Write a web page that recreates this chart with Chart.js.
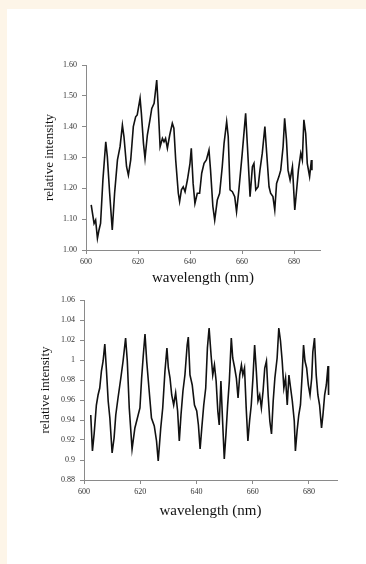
<!DOCTYPE html>
<html>
<head>
<meta charset="utf-8">
<script src="https://cdn.jsdelivr.net/npm/chart.js@4/dist/chart.umd.min.js"></script>
<style>
  html, body { margin: 0; padding: 0; overflow: hidden; background: #fff; }
  body { width: 366px; height: 564px; position: relative; }
  .cream { position: absolute; background: #fdf5e8; }
  #creamTop { left: 0; top: 0; width: 366px; height: 9px; }
  #creamLeft { left: 0; top: 0; width: 7px; height: 564px; }
  .box { position: absolute; left: 0; }
  #top { top: 40px; width: 340px; height: 260px; }
  #bottom { top: 290px; width: 357px; height: 250px; }
</style>
</head>
<body>
<div class="cream" id="creamTop"></div>
<div class="cream" id="creamLeft"></div>
<div class="box" id="top"><canvas id="chartTop"></canvas></div>
<div class="box" id="bottom"><canvas id="chartBottom"></canvas></div>
<script>
// Spectre du haut : longueurs d'onde (nm) et intensité relative
const wlTop = [602.0, 603.1, 603.7, 604.4, 605.0, 605.6, 606.5, 607.6, 608.2, 609.1, 610.1, 611.0, 612.1, 613.1, 614.0, 614.6, 615.6, 616.3, 617.2, 618.2, 619.1, 619.7, 620.8, 621.3, 622.1, 622.7, 623.6, 624.6, 625.3, 626.2, 627.2, 627.7, 628.5, 629.4, 630.0, 630.6, 631.3, 632.2, 633.2, 633.8, 634.5, 635.5, 636.0, 636.7, 637.4, 638.1, 639.0, 640.0, 640.5, 641.2, 641.9, 642.8, 643.7, 644.5, 645.4, 646.3, 647.3, 647.9, 648.8, 649.5, 650.5, 651.4, 652.4, 653.1, 654.1, 654.7, 655.4, 656.3, 657.2, 657.9, 658.8, 660.1, 661.4, 662.1, 663.1, 664.0, 664.6, 665.3, 666.2, 666.9, 667.8, 668.8, 669.5, 670.4, 671.0, 671.9, 672.6, 673.3, 674.2, 674.9, 675.8, 676.4, 677.1, 677.7, 678.5, 679.4, 680.3, 680.9, 681.7, 682.6, 683.2, 683.8, 684.5, 685.1, 686.0, 686.7, 686.9];
const intTop = [1.146, 1.086, 1.097, 1.038, 1.065, 1.086, 1.227, 1.351, 1.303, 1.184, 1.065, 1.184, 1.292, 1.335, 1.405, 1.368, 1.270, 1.243, 1.292, 1.400, 1.432, 1.438, 1.492, 1.443, 1.346, 1.297, 1.373, 1.422, 1.459, 1.476, 1.551, 1.476, 1.335, 1.362, 1.351, 1.362, 1.330, 1.373, 1.411, 1.395, 1.292, 1.184, 1.157, 1.195, 1.205, 1.189, 1.227, 1.281, 1.330, 1.216, 1.151, 1.184, 1.184, 1.249, 1.281, 1.292, 1.324, 1.259, 1.141, 1.097, 1.162, 1.184, 1.270, 1.346, 1.416, 1.368, 1.195, 1.189, 1.173, 1.124, 1.195, 1.314, 1.443, 1.335, 1.173, 1.270, 1.281, 1.195, 1.205, 1.259, 1.314, 1.400, 1.314, 1.205, 1.184, 1.173, 1.130, 1.216, 1.238, 1.259, 1.335, 1.427, 1.357, 1.259, 1.227, 1.270, 1.130, 1.184, 1.259, 1.314, 1.292, 1.422, 1.378, 1.281, 1.238, 1.292, 1.259];

// Spectre du bas
const wlBottom = [602.4, 603.0, 603.6, 604.4, 605.0, 605.6, 606.2, 606.8, 607.4, 608.0, 608.6, 609.2, 610.0, 610.7, 611.3, 612.1, 613.1, 613.9, 614.8, 615.4, 616.1, 617.1, 618.1, 619.0, 619.9, 620.5, 621.1, 621.7, 622.3, 623.1, 624.0, 625.0, 625.8, 626.4, 627.3, 628.0, 628.8, 629.5, 630.0, 630.6, 631.2, 631.9, 632.6, 633.3, 633.9, 634.5, 635.2, 635.9, 636.7, 637.1, 637.7, 638.5, 639.3, 640.1, 640.7, 641.3, 641.9, 642.6, 643.3, 643.9, 644.5, 645.2, 645.8, 646.4, 647.0, 647.6, 648.1, 648.7, 649.3, 649.9, 650.5, 651.1, 651.7, 652.4, 652.9, 653.6, 654.2, 654.8, 655.4, 656.0, 656.5, 657.1, 657.7, 658.3, 658.9, 659.5, 660.1, 660.7, 661.3, 661.9, 662.5, 663.1, 663.7, 664.3, 664.9, 665.5, 666.1, 666.7, 667.3, 667.9, 668.7, 669.3, 669.9, 670.5, 671.1, 671.7, 672.3, 672.9, 673.5, 674.1, 674.8, 675.2, 675.8, 676.4, 677.0, 677.6, 678.1, 678.6, 679.2, 679.8, 680.4, 681.0, 681.4, 682.0, 682.6, 683.2, 683.8, 684.5, 685.0, 685.6, 686.2, 686.8, 687.0];
const intBottom = [0.945, 0.909, 0.926, 0.955, 0.965, 0.972, 0.989, 0.999, 1.016, 0.989, 0.959, 0.942, 0.907, 0.922, 0.945, 0.962, 0.982, 0.999, 1.022, 0.999, 0.952, 0.911, 0.932, 0.942, 0.952, 0.982, 1.005, 1.026, 0.999, 0.972, 0.942, 0.934, 0.919, 0.899, 0.932, 0.952, 0.989, 1.012, 0.992, 0.982, 0.965, 0.955, 0.967, 0.949, 0.919, 0.945, 0.969, 0.985, 1.015, 1.023, 0.985, 0.975, 0.955, 0.949, 0.935, 0.911, 0.932, 0.955, 0.972, 1.012, 1.032, 1.005, 0.985, 0.995, 0.979, 0.949, 0.935, 0.979, 0.939, 0.901, 0.926, 0.955, 0.979, 1.022, 1.002, 0.992, 0.982, 0.962, 0.985, 0.995, 0.985, 0.992, 0.952, 0.919, 0.939, 0.955, 0.982, 1.015, 0.989, 0.959, 0.965, 0.952, 0.969, 0.992, 0.999, 0.965, 0.939, 0.926, 0.959, 0.982, 1.002, 1.032, 1.019, 0.999, 0.972, 0.982, 0.955, 0.985, 0.972, 0.959, 0.939, 0.909, 0.929, 0.945, 0.955, 0.985, 1.015, 0.999, 0.992, 0.975, 0.965, 0.982, 1.008, 1.022, 0.985, 0.965, 0.955, 0.932, 0.945, 0.965, 0.975, 0.994, 0.965];

// Graduations
const xTicksNm = [600, 620, 640, 660, 680];
const yTicksTop = [1.00, 1.10, 1.20, 1.30, 1.40, 1.50, 1.60];
const yTicksBottom = [0.88, 0.90, 0.92, 0.94, 0.96, 0.98, 1.00, 1.02, 1.04, 1.06];

const serif = "'Liberation Serif', 'DejaVu Serif', serif";
const axisGray = '#8a8a8a';

function buildChart(canvasId, wl, values, yTicks, yFormat, cfg) {
    const points = wl.map((x, i) => ({ x: x, y: values[i] }));
    return new Chart(document.getElementById(canvasId), {
        type: 'line',
        data: {
            datasets: [{
                data: points,
                borderColor: '#111',
                borderWidth: 1.6,
                pointRadius: 0,
                tension: 0,
                fill: false
            }]
        },
        options: {
            responsive: true,
            maintainAspectRatio: false,
            animation: false,
            layout: { padding: { top: cfg.padTop, right: 20, left: 0, bottom: 0 } },
            plugins: { legend: { display: false }, tooltip: { enabled: false } },
            scales: {
                x: {
                    type: 'linear',
                    min: 600,
                    max: 690,
                    afterBuildTicks: axis => { axis.ticks = xTicksNm.map(v => ({ value: v })); },
                    afterFit: axis => { axis.height = cfg.xHeight; },
                    grid: { display: true, drawOnChartArea: false, drawTicks: true, tickLength: 4, color: axisGray },
                    border: { color: axisGray, width: 1 },
                    ticks: { font: { family: serif, size: 8 }, color: '#333', padding: 3, maxRotation: 0 },
                    title: {
                        display: true,
                        text: 'wavelength (nm)',
                        font: { family: serif, size: 15 },
                        color: '#111',
                        padding: { top: 0, bottom: cfg.xTitlePad }
                    }
                },
                y: {
                    min: yTicks[0],
                    max: yTicks[yTicks.length - 1],
                    afterBuildTicks: axis => { axis.ticks = yTicks.map(v => ({ value: v })); },
                    afterFit: axis => { axis.width = cfg.yWidth; },
                    grid: { display: true, drawOnChartArea: false, drawTicks: true, tickLength: 4, color: axisGray },
                    border: { color: axisGray, width: 1 },
                    ticks: { font: { family: serif, size: 8 }, color: '#333', padding: 5, callback: yFormat },
                    title: {
                        display: true,
                        text: 'relative intensity',
                        font: { family: serif, size: 13 },
                        color: '#111',
                        padding: { top: cfg.yTitlePad, bottom: 0 }
                    }
                }
            }
        }
    });
}

buildChart('chartTop', wlTop, intTop, yTicksTop, v => v.toFixed(2),
    { padTop: 25, xHeight: 50, yWidth: 86, xTitlePad: 13, yTitlePad: 42 });

buildChart('chartBottom', wlBottom, intBottom, yTicksBottom, v => String(+v.toFixed(2)),
    { padTop: 10, xHeight: 60, yWidth: 84, xTitlePad: 20, yTitlePad: 38 });
</script>
</body>
</html>
